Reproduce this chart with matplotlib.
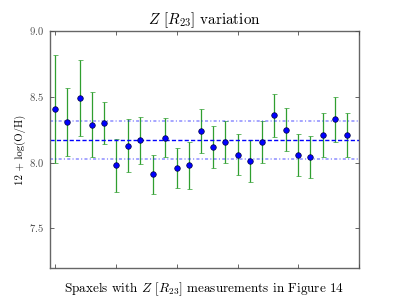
import matplotlib
matplotlib.use("Agg")
import matplotlib.pyplot as plt
import numpy as np

plt.style.use('classic')
plt.rcParams['font.family'] = 'serif'
plt.rcParams['font.serif'] = ['cmr10']
plt.rcParams['mathtext.fontset'] = 'cm'
plt.rcParams['axes.unicode_minus'] = False
plt.rcParams['axes.formatter.use_mathtext'] = True

# metallicity per spaxel and its error
z_vals = [8.41, 8.31, 8.49, 8.29, 8.30, 7.98, 8.13, 8.17, 7.91, 8.19,
          7.96, 7.98, 8.24, 8.12, 8.16, 8.06, 8.01, 8.16, 8.36, 8.25,
          8.06, 8.04, 8.21, 8.33, 8.21]
z_errs = [0.41, 0.26, 0.29, 0.25, 0.16, 0.20, 0.20, 0.18, 0.15, 0.15,
          0.15, 0.18, 0.17, 0.16, 0.16, 0.155, 0.16, 0.16, 0.163, 0.164,
          0.16, 0.16, 0.164, 0.17, 0.17]

z_mean = 8.172
z_std = 0.148

x = np.arange(len(z_vals))

fig = plt.figure(figsize=(3.99, 2.99), dpi=100, facecolor='white')
ax = fig.add_subplot(111)

ax.errorbar(x, z_vals, yerr=z_errs, fmt='bo', ecolor='#2f9f2f', elinewidth=0.9,
            capsize=1.8, capthick=0.9, markersize=4, mew=0.5, mec='#000040')

ax.axhline(z_mean, color='b', linestyle='--', dashes=(3, 1.6), linewidth=1.0)
ax.axhline(z_mean + z_std, color='b', linestyle='-.', dashes=(2.2, 1.6, 0.8, 1.6),
           linewidth=1.1, alpha=0.45)
ax.axhline(z_mean - z_std, color='b', linestyle='-.', dashes=(2.2, 1.6, 0.8, 1.6),
           linewidth=1.1, alpha=0.45)

ax.set_xlim(-0.45, 25)
ax.set_ylim(7.2, 9.0)
ax.set_xticks([0, 5, 10, 15, 20, 25])
ax.set_xticklabels([])
ax.set_yticks([7.5, 8.0, 8.5, 9.0])
ax.tick_params(labelsize=7.6, length=3, width=0.6, color='0.3', labelcolor='0.3')
for sp in ax.spines.values():
    sp.set_color('0.4')
    sp.set_linewidth(1.0)

ax.set_title(r'$Z$ [$R_{23}$] variation', fontsize=10.9)
ax.set_xlabel(r'Spaxels with $Z$ [$R_{23}$] measurements in Figure 14', fontsize=9.5)
ax.set_ylabel('12 + log(O/H)', fontsize=7.8)
ax.yaxis.set_label_coords(-0.078, 0.5)

fig.subplots_adjust(left=0.125, right=0.9, bottom=0.104, top=0.896)
fig.savefig('out.png', dpi=100, facecolor='white')
